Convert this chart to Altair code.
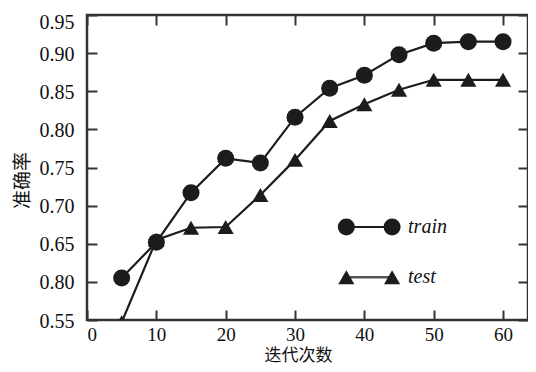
import altair as alt
import pandas as pd

# ---- data ----
iterations = [5, 10, 15, 20, 25, 30, 35, 40, 45, 50, 55, 60]
train_acc = [0.605, 0.652, 0.717, 0.762, 0.756, 0.816, 0.854, 0.871, 0.898, 0.913, 0.915, 0.915]
test_acc = [0.547, 0.655, 0.671, 0.672, 0.714, 0.760, 0.811, 0.833, 0.852, 0.865, 0.865, 0.865]
series_names = ["train", "test"]

x_ticks = [0, 10, 20, 30, 40, 50, 60]
y_ticks = [0.55, 0.60, 0.65, 0.70, 0.75, 0.80, 0.85, 0.90, 0.95]
y_tick_labels = ["0.55", "0.80", "0.65", "0.70", "0.75", "0.80", "0.85", "0.90", "0.95"]
x_title = "迭代次数"
y_title = "准确率"

# legend anchor points (data units)
legend_x = [37.4, 44.0]
legend_text_x = 46.3
legend_y = [0.672, 0.606]

# ---- tables ----
df = pd.DataFrame({
    "iteration": iterations * 2,
    "acc": train_acc + test_acc,
    "series": [series_names[0]] * len(iterations) + [series_names[1]] * len(iterations),
})
train_df = df[df.series == "train"]
test_df = df[df.series == "test"]

leg_rows = []
for name, yv in zip(series_names, legend_y):
    for xv in legend_x:
        leg_rows.append({"series": name, "x": xv, "y": yv})
leg_df = pd.DataFrame(leg_rows)
leg_text_df = pd.DataFrame({"series": series_names, "x": [legend_text_x] * 2, "y": legend_y})

label_expr = "".join(
    f"abs(datum.value - {t}) < 0.001 ? '{l}' : " for t, l in zip(y_ticks, y_tick_labels)
) + "''"

W, H = 441, 305
xs = alt.Scale(domain=[0, 63.6], nice=False, zero=False)
ys = alt.Scale(domain=[0.55, 0.95], nice=False, zero=False)

INK = "#1c1c1c"
SERIF = "Liberation Serif"
CJK = "Noto Sans CJK SC"

x_axis = alt.Axis(values=x_ticks, title=x_title, orient="bottom", offset=-10, tickSize=10,
                  labelPadding=5, labelFontSize=19, titleFont=CJK, titleFontSize=17,
                  titleFontWeight="normal", titleX=211, titleY=45, titleBaseline="middle",
                  titleAnchor="middle")
y_axis = alt.Axis(values=y_ticks, title=y_title, orient="left", offset=-10, tickSize=10,
                  labelPadding=13,
                  labelOffset={"condition": {"test": "datum.value > 0.94", "value": 7},
                               "value": 1},
                  labelExpr=label_expr, titleFont=CJK,
                  titleFontSize=19, titleFontWeight="normal", titleX=-75, titleY=165,
                  titleBaseline="middle", titleAngle=-90)

base_x = alt.X("iteration:Q", scale=xs, axis=x_axis)
base_y = alt.Y("acc:Q", scale=ys, axis=y_axis)
plain_x = alt.X("iteration:Q", scale=xs, axis=None)
plain_y = alt.Y("acc:Q", scale=ys, axis=None)

train_line = alt.Chart(train_df).mark_line(color=INK, strokeWidth=2.2, clip=True).encode(
    x=base_x, y=base_y)
train_pts = alt.Chart(train_df).mark_point(shape="circle", filled=True, size=290, color=INK,
                                           opacity=1, clip=True).encode(x=plain_x, y=plain_y)
test_line = alt.Chart(test_df).mark_line(color=INK, strokeWidth=2.2, clip=True).encode(
    x=plain_x, y=plain_y)
test_pts = alt.Chart(test_df).mark_point(shape="triangle-up", filled=True, size=260, color=INK,
                                         opacity=1, clip=True).encode(x=plain_x, y=plain_y)

leg_x = alt.X("x:Q", scale=xs, axis=None)
leg_y = alt.Y("y:Q", scale=ys, axis=None)
leg_line_train = alt.Chart(leg_df[leg_df.series == "train"]).mark_line(
    color=INK, strokeWidth=2.2).encode(x=leg_x, y=leg_y)
leg_line_test = alt.Chart(leg_df[leg_df.series == "test"]).mark_line(
    color="#555555", strokeWidth=2.6).encode(x=leg_x, y=leg_y)
leg_pts_train = alt.Chart(leg_df[leg_df.series == "train"]).mark_point(
    shape="circle", filled=True, size=290, color=INK, opacity=1).encode(x=leg_x, y=leg_y)
leg_pts_test = alt.Chart(leg_df[leg_df.series == "test"]).mark_point(
    shape="triangle-up", filled=True, size=260, color=INK, opacity=1).encode(x=leg_x, y=leg_y)
leg_text = alt.Chart(leg_text_df).mark_text(
    align="left", baseline="middle", font=SERIF, fontSize=20, fontStyle="italic",
    color="#111111").encode(x=leg_x, y=leg_y, text="series:N")

# ghost layer carrying the inward ticks of the top and right edges
ghost = alt.Chart(train_df).mark_point(opacity=0).encode(
    x=alt.X("iteration:Q", scale=xs,
            axis=alt.Axis(values=x_ticks, orient="top", offset=-10, tickSize=10,
                          labels=False, title=None)),
    y=alt.Y("acc:Q", scale=ys,
            axis=alt.Axis(values=y_ticks, orient="right", offset=-10, tickSize=10,
                          labels=False, title=None)),
)

chart = alt.layer(
    ghost, train_line, test_line, train_pts, test_pts,
    leg_line_train, leg_line_test, leg_pts_train, leg_pts_test, leg_text,
).resolve_axis(x="independent", y="independent").properties(
    width=W, height=H,
    autosize=alt.AutoSizeParams(type="none"),
    padding={"left": 79, "top": 7, "right": 0, "bottom": 44},
    background="white",
).configure_view(
    stroke="#333333", strokeWidth=2.5,
).configure_axis(
    domain=False, grid=False, tickColor="#333333", tickWidth=2,
    labelFont=SERIF, labelFontSize=20, labelColor="#111111",
    titleColor="#111111",
)

chart.save("out.html", embed_options={"renderer": "svg", "actions": False})
